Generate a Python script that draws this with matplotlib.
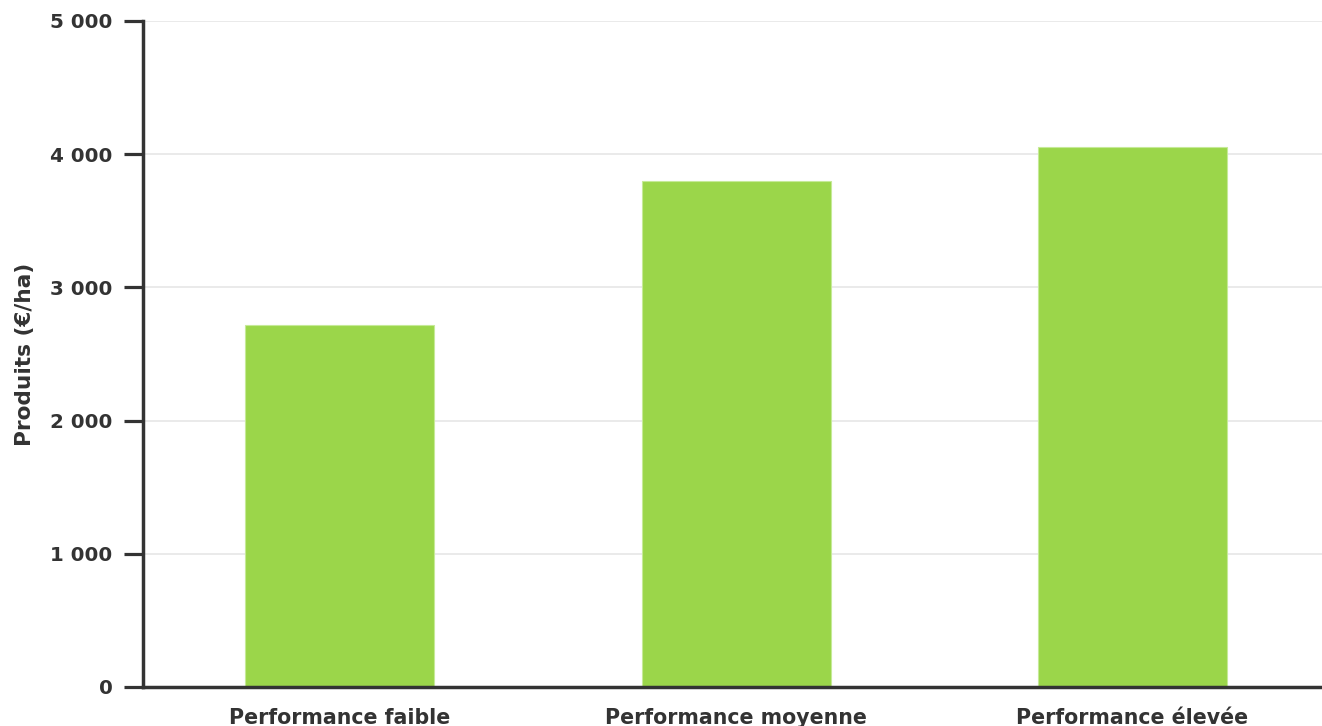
"""
Produits par hectare selon le niveau de performance (bar chart).
"""

import matplotlib
matplotlib.use("Agg")
import matplotlib.pyplot as plt
from matplotlib.ticker import FuncFormatter

CATEGORIES = ["Performance faible", "Performance moyenne", "Performance élevée"]
PRODUITS   = [2718, 3797, 4054]
Y_TICKS    = [0, 1000, 2000, 3000, 4000, 5000]
Y_LABEL    = "Produits (€/ha)"

BAR_COLOR  = "#9bd64a"
TEXT_COLOR = "#333333"
GRID_COLOR = "#e6e6e6"


def fmt_thousands(v, _pos):
    return f"{int(v):,}".replace(",", " ")


def main():
    plt.rcParams["font.family"] = ["DejaVu Sans"]
    fig = plt.figure(figsize=(13.22, 7.26), dpi=100)
    ax = fig.add_axes([143 / 1322, 1 - 687 / 726, 1 - 143 / 1322, (687 - 21) / 726])

    x = range(len(CATEGORIES))
    ax.bar(x, PRODUITS, width=0.477, color=BAR_COLOR,
           edgecolor="#c6ea98", linewidth=0.8, zorder=2)

    ax.set_xlim(-0.496, 2.478)
    ax.set_ylim(0, 5000)
    ax.set_yticks(Y_TICKS)
    ax.yaxis.set_major_formatter(FuncFormatter(fmt_thousands))
    ax.set_xticks(list(x))
    ax.set_xticklabels(CATEGORIES)

    ax.grid(axis="y", color=GRID_COLOR, linewidth=1.2, zorder=0)
    ax.set_axisbelow(True)

    for side in ("top", "right"):
        ax.spines[side].set_visible(False)
    for side in ("left", "bottom"):
        ax.spines[side].set_color(TEXT_COLOR)
        ax.spines[side].set_linewidth(2.5)
        ax.spines[side].set_zorder(3)

    ax.tick_params(axis="y", length=14, width=2.3, color=TEXT_COLOR, pad=8,
                   labelsize=14.3, labelcolor=TEXT_COLOR)
    ax.tick_params(axis="x", length=0, pad=15,
                   labelsize=14.8, labelcolor=TEXT_COLOR)
    for lbl in ax.get_yticklabels() + ax.get_xticklabels():
        lbl.set_fontweight("bold")

    ax.set_ylabel(Y_LABEL, fontsize=15.6, fontweight="bold", color=TEXT_COLOR)
    ax.yaxis.set_label_coords(-108 / 1179, 0.5)

    fig.savefig("out.png", dpi=100)
    plt.close(fig)


if __name__ == "__main__":
    main()
